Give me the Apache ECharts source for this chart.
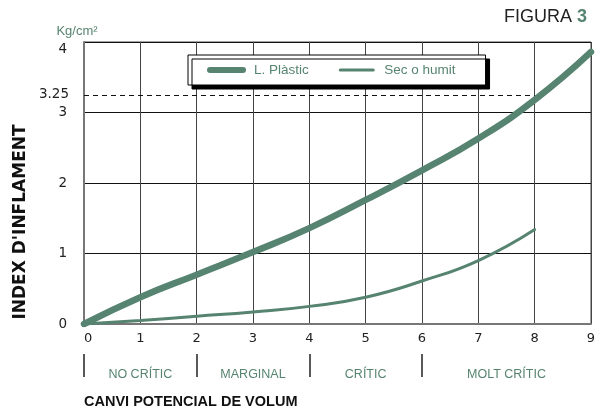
<!DOCTYPE html>
<html>
<head>
<meta charset="utf-8">
<script src="https://cdn.jsdelivr.net/npm/echarts@6/dist/echarts.min.js"></script>
<style>
  html, body { margin: 0; padding: 0; background: #fff; }
  #main { width: 603px; height: 411px; }
</style>
</head>
<body>
<div id="main"></div>
<script>
// dades llegides de la figura
var xTicks = [0, 1, 2, 3, 4, 5, 6, 7, 8, 9];
var yTicks = [0, 1, 2, 3, 4];
var plasticX = [0, 1, 2, 3, 4, 5, 6, 7, 8, 9];
var plasticY = [0, 0.38, 0.7, 1.02, 1.36, 1.76, 2.18, 2.63, 3.18, 3.86];
var secX = [0, 1, 2, 3, 4, 5, 6, 7, 8];
var secY = [0, 0.05, 0.11, 0.17, 0.25, 0.38, 0.61, 0.9, 1.34];
var limitValue = 3.25;
var limitEndX = 8;
var zoneEdges = [0, 2, 4, 6];
var zoneCenters = [1, 3, 5, 7.5];
var zoneNames = ['NO CRÍTIC', 'MARGINAL', 'CRÍTIC', 'MOLT CRÍTIC'];

var green = '#568470';
var sans = '"Liberation Sans", Arial, sans-serif';

function pairs(xs, ys) {
    return xs.map(function (x, i) { return [x, ys[i]]; });
}

var myChart = echarts.init(document.getElementById('main'));

var option = {
    backgroundColor: '#fff',
    animation: false,
    title: {
        text: '{a|FIGURA} {b|3}',
        right: 11,
        top: 3,
        textStyle: {
            rich: {
                a: { fontFamily: sans, fontSize: 18, fontWeight: 'normal', color: '#222' },
                b: { fontFamily: sans, fontSize: 18, fontWeight: 'bold', color: green }
            }
        }
    },
    legend: {
        data: [
            { name: 'L. Plàstic', lineStyle: { width: 6, cap: 'round' } },
            { name: 'Sec o humit', lineStyle: { width: 3 } }
        ],
        left: 188,
        top: 55,
        padding: [8, 30, 8, 19],
        itemWidth: 33,
        itemHeight: 14,
        itemGap: 30,
        backgroundColor: '#fff',
        borderColor: '#000',
        borderWidth: 1,
        shadowColor: '#000',
        shadowBlur: 0,
        shadowOffsetX: 4,
        shadowOffsetY: 4,
        itemStyle: { opacity: 0 },
        textStyle: { color: green, fontFamily: sans, fontSize: 13.5, padding: [0, 0, 0, 6] }
    },
    grid: {
        left: 84,
        right: 12,
        top: 42,
        bottom: 87,
        show: true,
        borderColor: '#444',
        borderWidth: 1
    },
    xAxis: [
        {
            type: 'value',
            min: 0,
            max: 9,
            interval: 1,
            axisLine: { lineStyle: { color: '#777', width: 2 } },
            axisTick: { show: false },
            axisLabel: {
                margin: 8,
                color: '#222',
                fontFamily: 'DejaVu Sans',
                fontSize: 13,
                alignMinLabel: 'left'
            },
            splitLine: { lineStyle: { color: '#444', width: 1 } }
        },
        {
            type: 'value',
            min: 0,
            max: 9,
            position: 'bottom',
            offset: 30,
            axisLine: { show: false },
            splitLine: { show: false },
            axisTick: {
                show: true,
                customValues: zoneEdges,
                length: 23,
                lineStyle: { color: '#222', width: 1.5 }
            },
            axisLabel: {
                customValues: zoneCenters,
                margin: 14,
                color: green,
                fontFamily: sans,
                fontSize: 12.5,
                formatter: function (v) {
                    return zoneNames[zoneCenters.indexOf(v)];
                }
            }
        }
    ],
    yAxis: {
        type: 'value',
        min: 0,
        max: 4,
        interval: 1,
        name: 'Kg/cm²',
        nameLocation: 'end',
        nameGap: 4,
        nameTextStyle: {
            color: green,
            fontFamily: sans,
            fontSize: 13,
            padding: [0, 14, 0, 0]
        },
        axisLine: { show: true, lineStyle: { color: '#777', width: 2 } },
        axisTick: { show: false },
        axisLabel: {
            margin: 17,
            color: '#222',
            fontFamily: 'DejaVu Sans',
            fontSize: 13.5,
            verticalAlignMaxLabel: 'top'
        },
        splitLine: { lineStyle: { color: '#111', width: 1 } }
    },
    graphic: [
        {
            type: 'text',
            x: 21,
            y: 222,
            rotation: Math.PI / 2,
            style: {
                text: "INDEX D'INFLAMENT",
                fill: '#111',
                font: 'bold 17px "DejaVu Sans"',
                textAlign: 'center',
                textVerticalAlign: 'middle'
            }
        },
        {
            type: 'text',
            left: 84,
            top: 394,
            style: {
                text: 'CANVI POTENCIAL DE VOLUM',
                fill: '#111',
                font: 'bold 14.5px "Liberation Sans"'
            }
        }
    ],
    series: [
        {
            name: 'L. Plàstic',
            type: 'line',
            smooth: true,
            symbol: 'none',
            lineStyle: { color: green, width: 6.5, cap: 'round' },
            itemStyle: { color: green },
            data: pairs(plasticX, plasticY),
            z: 3,
            markLine: {
                silent: true,
                symbol: 'none',
                lineStyle: { color: '#111', width: 1, type: [5, 4] },
                label: {
                    show: true,
                    position: 'start',
                    distance: 15,
                    formatter: String(limitValue),
                    color: '#222',
                    fontFamily: 'DejaVu Sans',
                    fontSize: 13.5
                },
                data: [[{ coord: [0, limitValue] }, { coord: [limitEndX, limitValue] }]]
            }
        },
        {
            name: 'Sec o humit',
            type: 'line',
            smooth: true,
            symbol: 'none',
            lineStyle: { color: green, width: 3, cap: 'round' },
            itemStyle: { color: green },
            data: pairs(secX, secY),
            z: 3
        }
    ]
};

myChart.setOption(option);
</script>
</body>
</html>
